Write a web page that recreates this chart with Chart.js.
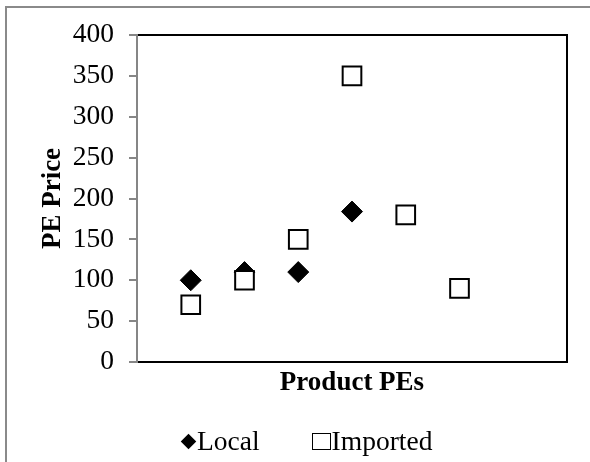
<!DOCTYPE html>
<html>
<head>
<meta charset="utf-8">
<script src="https://cdn.jsdelivr.net/npm/chart.js@4/dist/chart.umd.min.js"></script>
<style>
  html, body { margin: 0; padding: 0; background: #fff; }
  #wrap { position: relative; width: 590px; height: 462px; overflow: hidden; }
  #frame { position: absolute; left: 5px; top: 6px; width: 620px; height: 500px;
           border: 2px solid #8a8a8a; box-sizing: border-box; pointer-events: none; }
  #chart { position: absolute; left: 0; top: 0; }
  #legend { position: absolute; left: 181px; top: 426px; display: flex; align-items: center;
            font-family: "Liberation Serif", "Times New Roman", serif; font-size: 27.5px;
            line-height: 30px; color: #000; }
  .item { display: flex; align-items: center; }
  .item + .item { margin-left: 50px; }
  .mk-diamond { width: 11px; height: 11px; background: #000; transform: rotate(45deg);
                margin: 0 3px 0 2px; }
  .mk-square { width: 19px; height: 17px; border: 1.5px solid #000; box-sizing: border-box;
               background: #fff; margin: 0 1px 0 2px; }
</style>
</head>
<body>
<div id="wrap">
  <canvas id="chart" width="590" height="462"></canvas>
  <div id="frame"></div>
  <div id="legend"></div>
</div>
<script>
// Product positions along the horizontal axis
const localProducts = [1, 2, 3, 4];
const localPrice = [100, 110, 110, 184];
const importedProducts = [1, 2, 3, 4, 5, 6];
const importedPrice = [70, 100, 150, 350, 180, 90];
const seriesNames = ['Local', 'Imported'];
const yTickValues = [0, 50, 100, 150, 200, 250, 300, 350, 400];

const toPoints = (xs, ys) => xs.map((x, i) => ({ x: x, y: ys[i] }));

const serif = '"Liberation Serif", "Times New Roman", serif';
const GRAY = '#868686';

const chart = new Chart(document.getElementById('chart'), {
  type: 'scatter',
  data: {
    datasets: [
      {
        label: seriesNames[0],
        data: toPoints(localProducts, localPrice),
        pointStyle: 'rectRot',
        pointRadius: 10.5,
        pointHoverRadius: 10.5,
        backgroundColor: '#000',
        borderColor: '#000',
        borderWidth: 1,
        order: 1
      },
      {
        label: seriesNames[1],
        data: toPoints(importedProducts, importedPrice),
        pointStyle: 'rect',
        pointRadius: 13.2,
        pointHoverRadius: 13.2,
        backgroundColor: '#fff',
        borderColor: '#000',
        borderWidth: 2,
        order: 0
      }
    ]
  },
  options: {
    responsive: false,
    animation: false,
    events: [],
    layout: { padding: { left: 20, right: 23, top: 35, bottom: 50 } },
    plugins: {
      legend: { display: false },
      tooltip: { enabled: false }
    },
    scales: {
      x: {
        type: 'linear',
        position: 'bottom',
        min: 0,
        max: 8,
        grid: { display: false },
        border: { display: true, color: '#000', width: 2 },
        ticks: { display: false },
        title: {
          display: true,
          text: 'Product PEs',
          color: '#000',
          font: { family: serif, size: 27, weight: 'bold' },
          padding: { top: 0, bottom: 13 }
        },
        afterFit: (s) => { s.height = 50; }
      },
      xTop: {
        type: 'linear',
        position: 'top',
        min: 0,
        max: 8,
        grid: { display: false },
        border: { display: true, color: '#000', width: 2 },
        ticks: { display: false },
        afterFit: (s) => { s.height = 0; }
      },
      y: {
        type: 'linear',
        position: 'left',
        min: 0,
        max: 400,
        afterBuildTicks: (s) => { s.ticks = yTickValues.map(v => ({ value: v })); },
        grid: {
          display: true,
          drawOnChartArea: false,
          drawTicks: true,
          tickLength: 8,
          color: GRAY,
          lineWidth: 2
        },
        border: { display: true, color: GRAY, width: 2 },
        ticks: {
          color: '#000',
          padding: 15,
          font: { family: serif, size: 27.5 }
        },
        title: {
          display: true,
          text: 'PE Price',
          color: '#000',
          font: { family: serif, size: 27, weight: 'bold' },
          padding: { top: 17, bottom: 0 }
        },
        afterFit: (s) => { s.width = 117; }
      },
      yRight: {
        type: 'linear',
        position: 'right',
        min: 0,
        max: 400,
        grid: { display: false },
        border: { display: true, color: '#000', width: 2 },
        ticks: { display: false },
        afterFit: (s) => { s.width = 0; }
      }
    }
  }
});

// Legend built from the chart's own datasets
const legendEl = document.getElementById('legend');
chart.data.datasets.forEach((ds) => {
  const item = document.createElement('div');
  item.className = 'item';
  const mk = document.createElement('span');
  mk.className = ds.pointStyle === 'rectRot' ? 'mk-diamond' : 'mk-square';
  const txt = document.createElement('span');
  txt.textContent = ds.label;
  item.appendChild(mk);
  item.appendChild(txt);
  legendEl.appendChild(item);
});
</script>
</body>
</html>
